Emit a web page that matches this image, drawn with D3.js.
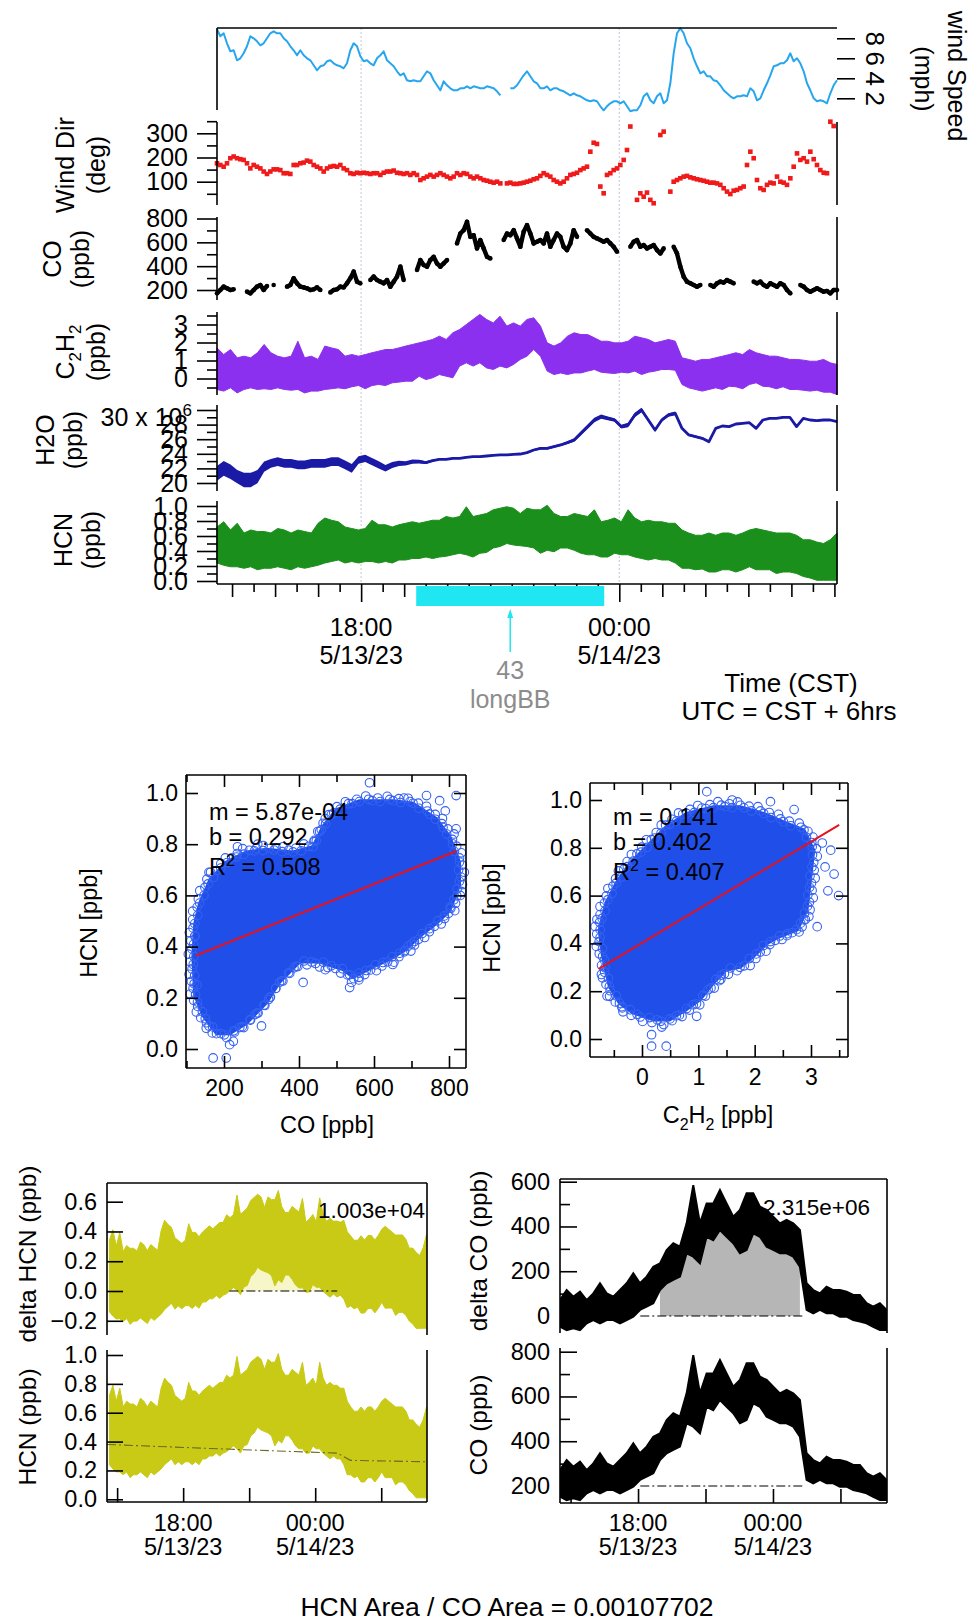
<!DOCTYPE html>
<html>
<head>
<meta charset="utf-8">
<script src="https://cdn.jsdelivr.net/npm/d3@7"></script>
<style>
  html, body { margin: 0; padding: 0; background: #fff; }
  svg { display: block; }
</style>
</head>
<body>
<svg id="chart" width="972" height="1621"></svg>
<script>
// ---------------- data ----------------
// Time is expressed in hours after 5/13/23 00:00 CST.
const seriesStart = 14.65;
const seriesEnd = 29.06;

// Wind speed (mph), evenly sampled over the series span
const windSpeedMph = [
  8.9,8.2,8.5,7.5,6.7,6.8,5.8,6.0,6.5,7.2,8.2,8.0,7.7,7.3,7.5,8.0,8.5,8.7,8.5,8.5,
  8.0,7.7,7.2,6.8,6.3,6.8,6.3,6.0,5.8,5.3,4.8,5.2,5.3,5.7,5.8,5.5,5.3,5.2,5.0,5.5,
  6.8,7.5,7.2,6.2,5.7,5.8,5.5,5.3,6.0,6.3,6.7,5.8,5.5,5.2,4.7,4.3,4.5,3.8,3.7,3.8,
  3.7,3.7,4.2,4.7,4.5,3.8,3.3,2.8,3.7,3.3,3.0,2.8,2.8,3.0,3.0,3.2,3.0,3.2,3.1,3.0,
  3.0,3.2,3.1,3.0,2.7,2.3,null,null,3.0,3.0,3.3,3.8,4.3,4.7,4.2,3.7,3.5,3.0,
  3.0,3.2,2.8,3.0,3.0,2.8,2.7,2.5,2.3,2.5,2.3,2.2,2.0,1.8,1.7,1.8,1.7,1.2,0.8,1.2,
  1.5,1.7,1.7,1.5,1.7,1.2,0.7,0.8,0.8,1.3,2.2,2.5,1.8,1.5,2.2,2.5,1.5,1.8,3.5,6.5,
  8.5,9.0,8.5,7.5,7.0,6.0,5.2,4.5,4.7,4.2,4.2,3.8,3.7,3.3,2.8,2.5,2.2,2.0,2.2,2.2,
  2.3,2.2,3.0,2.7,1.8,2.0,2.8,3.5,4.3,5.2,5.3,5.5,5.5,5.8,6.5,5.7,6.0,5.5,4.7,3.5,
  2.8,2.0,1.7,1.8,1.7,1.5,2.5,3.3,3.8
];

// Wind direction (deg), same sampling
const windDirDeg = [
  176,169,162,176,197,204,197,193,190,176,155,169,162,155,142,132,142,151,151,148,
  135,135,132,169,169,176,179,187,183,169,162,155,142,155,162,165,162,169,155,148,
  135,132,137,135,137,135,132,135,135,128,137,142,142,146,137,135,132,135,128,135,
  128,107,114,121,128,121,128,135,128,121,114,121,135,128,135,132,121,114,121,114,
  107,104,100,96,100,93,null,93,96,91,91,93,96,100,104,110,114,124,
  135,128,121,107,100,93,100,114,128,132,137,148,155,162,224,261,256,80,52,128,
  135,148,155,169,190,231,328,null,25,52,38,55,25,11,null,293,307,null,59,100,
  107,114,121,124,118,114,110,107,104,100,96,96,93,87,73,59,49,63,66,73,
  80,169,224,197,107,73,66,87,96,93,121,100,96,87,114,162,217,190,197,183,
  224,193,169,148,137,135,348,330,null
];

// CO (ppb), same sampling; null marks instrument gaps
const coPpb = [
  172,200,228,214,200,206,null,null,null,186,172,200,228,242,200,234,null,242,null,null,
  null,228,242,298,256,228,222,214,200,206,222,200,null,null,180,200,206,228,222,256,
  298,354,270,256,null,null,284,312,284,270,256,284,228,270,312,396,284,null,null,null,
  368,451,410,396,451,479,423,396,423,451,null,null,591,674,702,772,646,660,549,619,
  549,479,465,null,null,null,619,674,660,702,633,563,688,744,674,591,605,620,
  591,674,563,619,674,646,563,535,591,702,646,null,null,702,674,646,633,619,605,619,
  591,563,521,null,null,null,563,605,619,563,577,549,563,577,535,507,549,null,null,563,
  507,396,312,270,256,242,228,242,null,null,242,228,256,270,262,284,270,256,null,null,
  null,null,null,270,256,270,242,228,256,242,228,256,242,200,172,null,null,242,228,200,
  186,200,214,200,186,192,172,200,200
];

// C2H2 (ppb) low / high envelope of the 1 Hz record
const c2h2Low = [
  -0.61,-0.70,-0.52,-0.80,-0.61,-0.52,-0.61,-0.57,-0.61,-0.52,-0.61,-0.65,-0.61,-0.80,-0.70,-0.70,
  -0.61,-0.57,-0.52,-0.57,-0.46,-0.39,-0.57,-0.39,-0.33,-0.39,-0.24,-0.20,-0.15,-0.15,0.13,-0.06,
  0.04,0.22,0.13,0.04,0.69,0.87,0.69,0.87,0.59,0.50,0.69,0.59,0.78,1.06,1.24,1.61,1.24,
  0.41,0.22,0.31,0.22,0.31,0.31,0.41,0.50,0.35,0.31,0.28,0.35,0.31,0.41,0.22,0.35,0.41,0.50,0.50,0.46,
  -0.33,-0.52,-0.61,-0.70,-0.61,-0.52,-0.61,-0.43,-0.46,-0.57,-0.33,-0.24,-0.43,-0.46,-0.57,-0.46,
  -0.61,-0.61,-0.65,-0.70,-0.65,-0.76,-0.76,-0.89
];
const c2h2High = [
  1.70,1.33,1.61,1.15,1.24,1.15,1.43,1.89,1.43,1.24,1.15,1.24,2.07,1.15,1.24,1.06,
  1.80,1.70,1.61,1.24,1.33,1.24,1.33,1.43,1.52,1.61,1.61,1.70,1.80,1.89,1.98,2.07,
  2.17,2.35,2.17,2.54,2.72,3.00,3.28,3.56,3.28,3.09,3.46,2.91,3.09,2.91,3.28,3.37,2.91,
  1.98,1.80,1.98,2.35,2.54,2.44,2.44,2.26,2.07,2.07,1.98,1.98,2.07,2.35,2.26,2.17,1.98,2.07,2.17,2.07,
  1.15,1.06,0.96,1.06,1.06,1.15,1.24,1.33,1.43,1.33,1.61,1.43,1.33,1.24,1.24,1.15,
  1.06,1.06,1.02,0.96,0.96,1.06,0.87,0.78
];

// H2O (10^6 ppb) running value and noise half-width
const h2oPpm = [
  21.32,22.01,21.55,20.87,20.41,20.41,20.87,22.24,22.69,22.92,22.69,22.69,22.47,22.47,22.69,22.69,
  22.69,22.92,22.92,22.47,22.01,23.15,23.38,22.92,22.47,22.01,22.47,22.69,22.69,22.92,22.92,22.79,
  23.06,23.24,23.24,23.38,23.38,23.52,23.61,23.61,23.70,23.79,23.84,23.84,23.93,23.97,24.16,24.52,24.75,
  24.75,24.98,25.21,25.53,25.89,26.80,27.72,28.63,29.09,28.86,28.63,27.72,27.95,29.32,30.00,28.63,
  27.26,28.63,29.32,29.54,27.49,26.58,26.35,26.12,25.66,27.49,27.81,27.72,28.08,28.17,28.26,27.49,
  28.63,28.86,28.86,29.00,29.00,27.72,28.86,28.63,28.54,28.63,28.63,28.40
];
const h2oNoise = [
  1.0,1.0,1.0,0.9,1.0,1.0,0.9,0.7,0.6,0.6,0.6,0.6,0.6,0.6,0.6,0.6,0.6,0.6,0.6,0.6,
  0.6,0.5,0.5,0.5,0.5,0.45,0.4,0.35,0.3,0.3,0.25,0.2,0.15,0.1,0.1,0.1,0.1,0.1,0.1,0.1,
  0.1,0.1,0.1,0.1,0.1,0.1,0.1,0.15,0.15,
  0.15,0.15,0.15,0.2,0.25,0.3,0.3,0.3,0.3,0.25,0.25,0.25,0.3,0.3,0.3,0.25,0.25,0.25,0.25,0.25,
  0.2,0.15,0.15,0.15,0.15,0.15,0.1,0.1,0.1,0.1,0.1,0.1,0.1,0.1,0.1,0.1,0.1,0.1,0.1,0.1,
  0.1,0.1,0.1,0.1
];

// HCN (ppb) low / high envelope of the 1 Hz record
const hcnLow = [
  0.24,0.21,0.19,0.19,0.17,0.19,0.15,0.17,0.17,0.19,0.17,0.15,0.19,0.17,0.19,0.21,
  0.24,0.26,0.28,0.24,0.26,0.24,0.26,0.26,0.24,0.26,0.24,0.28,0.28,0.30,0.30,0.32,
  0.30,0.32,0.33,0.35,0.37,0.35,0.32,0.37,0.38,0.44,0.46,0.50,0.48,0.47,0.46,0.44,0.37,
  0.41,0.39,0.44,0.44,0.41,0.37,0.35,0.35,0.32,0.32,0.37,0.35,0.35,0.32,0.30,0.28,0.30,0.28,0.28,0.24,
  0.17,0.17,0.15,0.16,0.12,0.12,0.15,0.15,0.12,0.15,0.19,0.15,0.15,0.15,0.10,0.12,
  0.12,0.10,0.06,0.04,0.01,0.01,0.01,0.01
];
const hcnHigh = [
  0.72,0.79,0.68,0.77,0.64,0.68,0.66,0.66,0.64,0.70,0.68,0.64,0.68,0.66,0.64,0.77,
  0.84,0.81,0.79,0.72,0.70,0.68,0.70,0.81,0.75,0.75,0.72,0.75,0.77,0.79,0.77,0.79,
  0.81,0.81,0.86,0.84,0.86,0.99,0.86,0.88,0.90,0.95,0.97,0.99,0.97,0.90,0.97,0.95,0.95,
  1.01,0.90,0.86,0.86,0.90,0.88,0.86,0.95,0.79,0.81,0.84,0.79,0.95,0.84,0.79,0.81,0.79,0.79,0.77,0.77,
  0.68,0.64,0.61,0.61,0.64,0.61,0.64,0.64,0.61,0.64,0.68,0.70,0.68,0.66,0.64,0.64,
  0.64,0.61,0.55,0.55,0.52,0.50,0.55,0.64
];

// Fast CO record (ppb) used for the plume integration
const coFastStart = 14.53, coFastEnd = 29.05;
const coFastLow = [
  152,137,145,137,167,182,167,182,182,167,182,197,227,242,257,316,346,361,376,480,
  465,435,554,539,584,554,525,480,495,569,554,510,495,480,480,465,420,227,212,227,
  212,212,197,197,182,175,167,152,137,137
];
const coFastHigh = [
  271,316,286,309,271,301,346,301,286,316,346,391,346,376,420,435,495,525,510,614,
  785,614,703,703,763,703,644,674,748,748,688,674,644,614,629,614,584,346,316,301,
  331,316,316,309,294,294,257,242,257,227
];
const coBackground = 200;
const coFillWindow = [18.68, 25.42];
const coBaseWindow = [18.1, 25.42];

// HCN background (ppb) and plume window
const hcnBackgroundTime = [14.54, 19.6, 25.0, 25.6, 29.08];
const hcnBackgroundPpb = [0.38, 0.35, 0.32, 0.27, 0.26];
const hcnWindow = [20.1, 25.0];

const hcnAreaText = "1.003e+04";
const coAreaText = "2.315e+06";
const areaRatioText = "HCN Area / CO Area = 0.00107702";

// Biomass-burning event flag
const burnStart = 19.28, burnEnd = 23.65, burnId = "43", burnName = "longBB";

// Time labels
const markHours = [18, 24];
const markClock = ["18:00", "00:00"];
const markDate = ["5/13/23", "5/14/23"];

// Linear fits
const coFit = { m: 5.87e-4, b: 0.292, r2: 0.508, from: 125, to: 820 };
const c2h2Fit = { m: 0.141, b: 0.402, r2: 0.407, from: -0.77, to: 3.5 };

// Point-cloud outlines (x, HCN) and isolated points
const coCloudOutline = [
  [180,0.06],[144,0.13],[122,0.21],[117,0.36],[122,0.49],[135,0.57],[162,0.66],[206,0.73],
  [260,0.77],[313,0.78],[384,0.77],[437,0.79],[464,0.87],[500,0.935],[562,0.97],[651,0.97],
  [704,0.96],[766,0.90],[802,0.83],[828,0.73],[828,0.64],[802,0.54],[766,0.49],[722,0.44],
  [686,0.39],[642,0.35],[597,0.32],[544,0.28],[517,0.31],[455,0.34],[402,0.34],[348,0.26],
  [313,0.18],[260,0.10],[215,0.06]
];
const coCloudStray = [
  [588,1.04],[171,-0.035],[206,-0.035],[215,0.017],[225,0.03],[819,0.99],[775,0.97],[740,0.99],
  [535,0.24],[540,0.26],[411,0.26],[682,0.385],[700,0.41],[819,0.86],[790,0.93],[805,0.55],
  [830,0.60],[650,0.33],[300,0.09],[470,0.31],[160,0.09],[128,0.25],[122,0.44],[160,0.69],
  [236,0.79],[290,0.80],[440,0.81],[470,0.90],[680,0.98],[560,0.28]
];
const c2h2CloudOutline = [
  [-0.70,0.345],[-0.76,0.457],[-0.64,0.568],[-0.46,0.652],[-0.22,0.735],[0.08,0.805],[0.43,0.889],
  [0.79,0.944],[1.27,0.972],[1.74,0.972],[2.16,0.944],[2.58,0.902],[2.875,0.875],[3.05,0.79],
  [2.99,0.666],[2.93,0.54],[2.76,0.457],[2.46,0.43],[2.22,0.40],[1.98,0.345],[1.74,0.30],
  [1.50,0.29],[1.27,0.234],[1.03,0.164],[0.79,0.123],[0.49,0.08],[0.20,0.08],[-0.16,0.109],
  [-0.40,0.15],[-0.58,0.22]
];
const c2h2CloudStray = [
  [1.15,1.035],[0.17,0.018],[0.43,-0.03],[0.17,-0.03],[3.49,0.60],[3.41,0.69],[3.35,0.79],
  [3.11,0.47],[0.97,0.095],[2.28,0.993],[1.6,1.0],[2.7,0.96],[3.2,0.82],[3.25,0.72],
  [-0.8,0.5],[-0.72,0.27],[-0.62,0.18],[0.35,0.05],[1.4,0.25],[2.9,0.5],[3.3,0.62],[-0.35,0.13]
];

// ---------------- drawing ----------------
const FONT = "'Liberation Sans', Arial, Helvetica, sans-serif";
const svg = d3.select("#chart");
const defs = svg.append("defs");

const C_WIND = "#27a6ef", C_DIR = "#f01a1a", C_C2H2 = "#8b30ee", C_H2O = "#1a1aa6",
      C_HCN = "#1b8f1b", C_BB = "#1fe6f0", C_BLUE = "#1f4fe8", C_RING = "#3461f2",
      C_YEL = "#c8ca16", C_PALE = "#f6f6c8", C_GRAY = "#b6b6b6";

function spread(vals, t0, t1) {
  const n = vals.length;
  return vals.map((v, i) => ({ t: t0 + (t1 - t0) * i / (n - 1), v }));
}
function band(lo, hi, t0, t1) {
  const n = lo.length;
  return lo.map((l, i) => ({ t: t0 + (t1 - t0) * i / (n - 1), lo: l, hi: hi[i] }));
}
function clipRect(id, x, y, w, h) {
  defs.append("clipPath").attr("id", id).append("rect")
    .attr("x", x).attr("y", y).attr("width", w).attr("height", h);
  return `url(#${id})`;
}
function seg(g, x1, y1, x2, y2, w = 1.6) {
  g.append("line").attr("x1", x1).attr("y1", y1).attr("x2", x2).attr("y2", y2)
    .attr("stroke", "#000").attr("stroke-width", w);
}
function drawAxis(g, axis, size, transform) {
  const a = g.append("g").attr("transform", transform).call(axis);
  a.select(".domain").remove();
  a.selectAll(".tick line").attr("stroke", "#000").attr("stroke-width", 1.6);
  a.selectAll(".tick text").attr("font-size", size).attr("font-family", FONT).attr("fill", "#000");
  return a;
}
// Text with optional sub/superscript pieces; (x,y) is the visual centre of the line
function richText(g, x, y, parts, size, opts = {}) {
  const angle = opts.angle || 0;
  const t = g.append("text")
    .attr("transform", `translate(${x},${y}) rotate(${angle})`)
    .attr("text-anchor", opts.anchor || "middle")
    .attr("font-family", FONT).attr("font-size", size)
    .attr("fill", opts.fill || "#000")
    .attr("y", 0.36 * size);
  let shift = 0;
  parts.forEach(p => {
    const s = typeof p === "string" ? { t: p } : p;
    const target = s.sub ? 0.28 * size : s.sup ? -0.42 * size : 0;
    const ts = t.append("tspan").text(s.t).attr("dy", target - shift);
    if (s.sub || s.sup) ts.attr("font-size", size * 0.68);
    shift = target;
  });
  return t;
}

// ======== stacked time series ========
const L = 217, R = 837, AXIS_Y = 584;
const xTop = d3.scaleLinear().domain([seriesStart, seriesEnd]).range([L, R]);
const P = {
  ws:  { y: d3.scaleLinear().domain([2, 8]).range([98.3, 38.3]),      top: 28,  bottom: 110 },
  wd:  { y: d3.scaleLinear().domain([100, 300]).range([181.7, 133.3]), top: 122, bottom: 205 },
  co:  { y: d3.scaleLinear().domain([200, 800]).range([290, 218.5]),   top: 217, bottom: 300 },
  c2:  { y: d3.scaleLinear().domain([0, 3]).range([378.5, 324.5]),     top: 312, bottom: 395 },
  h2o: { y: d3.scaleLinear().domain([20, 30]).range([483, 410]),       top: 405, bottom: 491 },
  hcn: { y: d3.scaleLinear().domain([0, 1]).range([581, 506]),         top: 501, bottom: AXIS_Y }
};

const topG = svg.append("g");

// dotted day/hour guides
markHours.forEach(h => {
  topG.append("line").attr("x1", xTop(h)).attr("x2", xTop(h)).attr("y1", 28).attr("y2", AXIS_Y)
    .attr("stroke", "#c4c4dc").attr("stroke-width", 1).attr("stroke-dasharray", "2,2");
});

// wind speed
topG.append("path")
  .datum(spread(windSpeedMph, seriesStart, seriesEnd))
  .attr("fill", "none").attr("stroke", C_WIND).attr("stroke-width", 2).attr("stroke-linejoin", "round")
  .attr("d", d3.line().defined(d => d.v != null).x(d => xTop(d.t)).y(d => P.ws.y(d.v)));

// wind direction
topG.append("g").selectAll("rect")
  .data(spread(windDirDeg, seriesStart, seriesEnd).filter(d => d.v != null))
  .join("rect")
  .attr("x", d => xTop(d.t) - 2.3).attr("y", d => P.wd.y(d.v) - 2.3)
  .attr("width", 4.6).attr("height", 4.6).attr("fill", C_DIR);

// CO
const coSeries = spread(coPpb, seriesStart, seriesEnd);
topG.append("path").datum(coSeries)
  .attr("fill", "none").attr("stroke", "#000").attr("stroke-width", 4.4).attr("stroke-linejoin", "round")
  .attr("d", d3.line().defined(d => d.v != null).x(d => xTop(d.t)).y(d => P.co.y(d.v)));
topG.append("g").selectAll("circle").data(coSeries.filter(d => d.v != null)).join("circle")
  .attr("cx", d => xTop(d.t)).attr("cy", d => P.co.y(d.v)).attr("r", 2.3).attr("fill", "#000");

// C2H2 envelope
topG.append("path").datum(band(c2h2Low, c2h2High, seriesStart, seriesEnd))
  .attr("fill", C_C2H2).attr("stroke", C_C2H2).attr("stroke-width", 1)
  .attr("d", d3.area().x(d => xTop(d.t)).y0(d => P.c2.y(d.lo)).y1(d => P.c2.y(d.hi)));

// H2O
const h2oSeries = h2oPpm.map((v, i) => ({ v, n: h2oNoise[i] }));
const h2oPts = spread(h2oSeries, seriesStart, seriesEnd);
topG.append("path").datum(h2oPts)
  .attr("fill", C_H2O).attr("stroke", "none")
  .attr("d", d3.area().x(d => xTop(d.t)).y0(d => P.h2o.y(d.v.v - d.v.n)).y1(d => P.h2o.y(d.v.v + d.v.n)));
topG.append("path").datum(h2oPts)
  .attr("fill", "none").attr("stroke", C_H2O).attr("stroke-width", 2.8).attr("stroke-linejoin", "round")
  .attr("d", d3.line().x(d => xTop(d.t)).y(d => P.h2o.y(d.v.v)));

// HCN envelope
const hcnBand = band(hcnLow, hcnHigh, seriesStart, seriesEnd);
topG.append("path").datum(hcnBand)
  .attr("fill", C_HCN).attr("stroke", C_HCN).attr("stroke-width", 1)
  .attr("d", d3.area().x(d => xTop(d.t)).y0(d => P.hcn.y(d.lo)).y1(d => P.hcn.y(d.hi)));

// frames and left axes
seg(topG, L, 28, R, 28);
seg(topG, L, P.ws.top, L, P.ws.bottom);
function leftAxis(p, major, minor, fmt) {
  drawAxis(topG, d3.axisLeft(p.y).tickValues(major).tickSize(20).tickPadding(9).tickFormat(fmt), 25, `translate(${L},0)`);
  if (minor) drawAxis(topG, d3.axisLeft(p.y).tickValues(minor).tickSize(10).tickFormat(""), 25, `translate(${L},0)`);
  seg(topG, L, p.top, L, p.bottom);
  seg(topG, R, p.top, R, p.bottom);
}
leftAxis(P.wd, [100, 200, 300], [50, 150, 250, 350], d3.format("d"));
leftAxis(P.co, [200, 400, 600, 800], [300, 500, 700], d3.format("d"));
leftAxis(P.c2, [0, 1, 2, 3], [-0.5, 0.5, 1.5, 2.5, 3.5], d3.format("d"));
leftAxis(P.h2o, [20, 22, 24, 26, 28, 30], [21, 23, 25, 27, 29], d => d === 30 ? "" : d3.format("d")(d));
leftAxis(P.hcn, [0, 0.2, 0.4, 0.6, 0.8, 1.0], [0.1, 0.3, 0.5, 0.7, 0.9], d3.format(".1f"));
richText(topG, 192, P.h2o.y(30) + 7, ["30 x 10", { t: "6", sup: true }], 25, { anchor: "end" });

// wind speed axis on the right with sideways labels
const wsAxis = drawAxis(topG, d3.axisRight(P.ws.y).tickValues([2, 4, 6, 8]).tickSize(18).tickFormat(d3.format("d")), 26, `translate(${R},0)`);
wsAxis.selectAll(".tick text")
  .attr("x", 0).attr("dy", null).attr("y", 0).attr("text-anchor", "middle")
  .attr("transform", "translate(36,0) rotate(90) translate(0,7)");

// time axis
seg(topG, L, AXIS_Y, R, AXIS_Y);
const halfHours = d3.range(15, 29.01, 0.5);
drawAxis(topG, d3.axisBottom(xTop).tickValues(halfHours.filter(h => h % 1 !== 0)).tickSize(8).tickFormat(""), 25, `translate(0,${AXIS_Y})`);
drawAxis(topG, d3.axisBottom(xTop).tickValues(halfHours.filter(h => h % 1 === 0 && !markHours.includes(h))).tickSize(13).tickFormat(""), 25, `translate(0,${AXIS_Y})`);
drawAxis(topG, d3.axisBottom(xTop).tickValues(markHours).tickSize(18).tickFormat(""), 25, `translate(0,${AXIS_Y})`);
markHours.forEach((h, i) => {
  richText(topG, xTop(h), 627, [markClock[i]], 25);
  richText(topG, xTop(h), 655, [markDate[i]], 25);
});

// burn event flag
topG.append("rect").attr("x", xTop(burnStart)).attr("y", 586)
  .attr("width", xTop(burnEnd) - xTop(burnStart)).attr("height", 20).attr("fill", C_BB);
const bbMid = xTop((burnStart + burnEnd) / 2);
topG.append("line").attr("x1", bbMid).attr("x2", bbMid).attr("y1", 613).attr("y2", 652)
  .attr("stroke", C_BB).attr("stroke-width", 1.5);
topG.append("path").attr("d", `M${bbMid},609 L${bbMid - 3},618 L${bbMid + 3},618 Z`).attr("fill", C_BB);
richText(topG, bbMid, 670, [burnId], 25, { fill: "#8c8c8c" });
richText(topG, bbMid, 699, [burnName], 25, { fill: "#8c8c8c" });

richText(topG, 791, 683, ["Time (CST)"], 26);
richText(topG, 789, 711, ["UTC = CST + 6hrs"], 26);

// panel titles
richText(topG, 957, 76, ["wind Speed"], 25, { angle: 90 });
richText(topG, 924, 79, ["(mph)"], 25, { angle: 90 });
richText(topG, 65, 165, ["Wind Dir"], 25, { angle: -90 });
richText(topG, 96, 165, ["(deg)"], 25, { angle: -90 });
richText(topG, 52, 259, ["CO"], 25, { angle: -90 });
richText(topG, 80, 259, ["(ppb)"], 25, { angle: -90 });
richText(topG, 65, 352, ["C", { t: "2", sub: true }, "H", { t: "2", sub: true }], 25, { angle: -90 });
richText(topG, 96, 352, ["(ppb)"], 25, { angle: -90 });
richText(topG, 45, 440, ["H2O"], 25, { angle: -90 });
richText(topG, 73, 440, ["(ppb)"], 25, { angle: -90 });
richText(topG, 63, 540, ["HCN"], 25, { angle: -90 });
richText(topG, 91, 540, ["(ppb)"], 25, { angle: -90 });

// ======== correlation plots ========
function fmtSlope(m) {
  if (Math.abs(m) >= 0.01) return m.toFixed(3);
  const [mant, ex] = m.toExponential(2).split("e");
  const e = parseInt(ex, 10);
  return `${mant}e${e < 0 ? "-" : "+"}${String(Math.abs(e)).padStart(2, "0")}`;
}
function scatter(cfg) {
  const g = svg.append("g");
  const { x0, x1, y0, y1, xs, ys } = cfg;
  const pts = cfg.outline.map(d => [xs(d[0]), ys(d[1])]);
  g.append("path").attr("d", d3.line()(pts) + "Z")
    .attr("fill", C_BLUE).attr("stroke", C_BLUE).attr("stroke-width", 3).attr("stroke-linejoin", "round");
  // markers crowding the edge of the cloud, stepping in and out of the outline
  const cx = d3.mean(pts, p => p[0]), cy = d3.mean(pts, p => p[1]);
  const ring = [];
  pts.forEach((p, i) => {
    const q = pts[(i + 1) % pts.length];
    const n = Math.max(1, Math.round(Math.hypot(q[0] - p[0], q[1] - p[1]) / 4));
    for (let k = 0; k < n; k++) {
      const px = p[0] + (q[0] - p[0]) * k / n, py = p[1] + (q[1] - p[1]) * k / n;
      const dx = px - cx, dy = py - cy, len = Math.hypot(dx, dy) || 1;
      const off = [0, 3, -1, 5, 1.5][(ring.length) % 5];
      ring.push([px + dx / len * off, py + dy / len * off]);
    }
  });
  g.append("g").selectAll("circle").data(ring).join("circle")
    .attr("cx", d => d[0]).attr("cy", d => d[1]).attr("r", 4.3)
    .attr("fill", "none").attr("stroke", C_RING).attr("stroke-width", 1.1);
  g.append("g").selectAll("circle").data(cfg.stray).join("circle")
    .attr("cx", d => xs(d[0])).attr("cy", d => ys(d[1])).attr("r", 4.3)
    .attr("fill", "none").attr("stroke", C_RING).attr("stroke-width", 1.1);
  const f = cfg.fit;
  g.append("line")
    .attr("x1", xs(f.from)).attr("y1", ys(f.m * f.from + f.b))
    .attr("x2", xs(f.to)).attr("y2", ys(f.m * f.to + f.b))
    .attr("stroke", "#e8101a").attr("stroke-width", 2);
  richText(g, cfg.tx, cfg.ty, [`m = ${fmtSlope(f.m)}`], 23.5, { anchor: "start" });
  richText(g, cfg.tx, cfg.ty + 25, [`b = ${f.b.toFixed(3)}`], 23.5, { anchor: "start" });
  richText(g, cfg.tx, cfg.ty + 55, ["R", { t: "2", sup: true }, ` = ${f.r2.toFixed(3)}`], 23.5, { anchor: "start" });

  // frame with inward ticks on every side
  seg(g, x0, y0, x1, y0); seg(g, x0, y1, x1, y1); seg(g, x0, y0, x0, y1); seg(g, x1, y0, x1, y1);
  drawAxis(g, d3.axisLeft(ys).tickValues(cfg.yTicks).tickSizeInner(-12).tickSizeOuter(0).tickPadding(8).tickFormat(d3.format(".1f")), 23, `translate(${x0},0)`);
  drawAxis(g, d3.axisRight(ys).tickValues(cfg.yTicks).tickSizeInner(-12).tickSizeOuter(0).tickFormat(""), 23, `translate(${x1},0)`);
  drawAxis(g, d3.axisBottom(xs).tickValues(cfg.xTicks).tickSizeInner(-12).tickSizeOuter(0).tickPadding(12).tickFormat(cfg.xFmt), 23, `translate(0,${y1})`);
  drawAxis(g, d3.axisBottom(xs).tickValues(cfg.xMinor).tickSizeInner(-7).tickSizeOuter(0).tickFormat(""), 23, `translate(0,${y1})`);
  drawAxis(g, d3.axisTop(xs).tickValues(cfg.xTicks).tickSizeInner(-12).tickSizeOuter(0).tickFormat(""), 23, `translate(0,${y0})`);
  drawAxis(g, d3.axisTop(xs).tickValues(cfg.xMinor).tickSizeInner(-7).tickSizeOuter(0).tickFormat(""), 23, `translate(0,${y0})`);
  richText(g, cfg.ylx, cfg.yly, ["HCN [ppb]"], 23.5, { angle: -90 });
  richText(g, cfg.xlx, cfg.xly, cfg.xTitle, 23.5);
}
scatter({
  x0: 186, x1: 466, y0: 775, y1: 1068,
  xs: d3.scaleLinear().domain([200, 800]).range([224, 449]),
  ys: d3.scaleLinear().domain([0, 1]).range([1049, 793]),
  outline: coCloudOutline, stray: coCloudStray, fit: coFit,
  tx: 209, ty: 812,
  yTicks: [0, 0.2, 0.4, 0.6, 0.8, 1.0],
  xTicks: [200, 400, 600, 800], xMinor: [100, 300, 500, 700], xFmt: d3.format("d"),
  ylx: 89, yly: 923, xlx: 327, xly: 1125, xTitle: ["CO [ppb]"]
});
scatter({
  x0: 590, x1: 848, y0: 783, y1: 1057,
  xs: d3.scaleLinear().domain([0, 3]).range([642, 811]),
  ys: d3.scaleLinear().domain([0, 1]).range([1039, 800]),
  outline: c2h2CloudOutline, stray: c2h2CloudStray, fit: c2h2Fit,
  tx: 613, ty: 817,
  yTicks: [0, 0.2, 0.4, 0.6, 0.8, 1.0],
  xTicks: [0, 1, 2, 3], xMinor: [-0.5, 0.5, 1.5, 2.5, 3.5], xFmt: d3.format("d"),
  ylx: 492, yly: 918, xlx: 718, xly: 1115,
  xTitle: ["C", { t: "2", sub: true }, "H", { t: "2", sub: true }, " [ppb]"]
});

// ======== plume integrations ========
const hourTicks = [15, 18, 21, 24, 27];
const dashDot = "9,3,2,3";

function timeAxisLabels(g, xs) {
  markHours.forEach((h, i) => {
    richText(g, xs(h), 1523, [markClock[i]], 23.5);
    richText(g, xs(h), 1547, [markDate[i]], 23.5);
  });
}
function frameTop(g, x0, x1, y0, y1) { seg(g, x0, y0, x0, y1); seg(g, x0, y0, x1, y0); seg(g, x1, y0, x1, y1); }
function frameBottom(g, x0, x1, y0, y1) { seg(g, x0, y0, x0, y1); seg(g, x0, y1, x1, y1); seg(g, x1, y0, x1, y1); }

// --- HCN ---
{
  const g = svg.append("g");
  const x0 = 107, x1 = 427;
  const xs = d3.scaleLinear().domain([14.54, 29.08]).range([x0, x1]);
  const yD = d3.scaleLinear().domain([0, 0.6]).range([1291, 1201.7]);
  const yH = d3.scaleLinear().domain([0, 1]).range([1499.3, 1355]);
  const bg = d3.scaleLinear().domain(hcnBackgroundTime).range(hcnBackgroundPpb);
  const delta = hcnBand.map(d => ({ t: d.t, lo: d.lo - bg(d.t), hi: d.hi - bg(d.t) }));
  const cTop = clipRect("clipHcnD", x0, 1183, x1 - x0, 1335 - 1183);
  const cBot = clipRect("clipHcn", x0, 1350, x1 - x0, 1502 - 1350);

  const inWin = delta.filter(d => d.t >= hcnWindow[0] && d.t <= hcnWindow[1]);
  g.append("path").datum(inWin).attr("clip-path", cTop).attr("fill", C_PALE)
    .attr("d", d3.area().x(d => xs(d.t)).y0(yD(0)).y1(d => yD(d.hi)));
  g.append("path").datum(delta).attr("clip-path", cTop).attr("fill", C_YEL).attr("stroke", C_YEL).attr("stroke-width", 1)
    .attr("d", d3.area().x(d => xs(d.t)).y0(d => yD(d.lo)).y1(d => yD(d.hi)));
  g.append("line").attr("x1", xs(hcnWindow[0])).attr("x2", xs(hcnWindow[1])).attr("y1", yD(0)).attr("y2", yD(0))
    .attr("stroke", "#000").attr("stroke-width", 1.1).attr("stroke-dasharray", dashDot);

  g.append("path").datum(hcnBand).attr("clip-path", cBot).attr("fill", C_YEL).attr("stroke", C_YEL).attr("stroke-width", 1)
    .attr("d", d3.area().x(d => xs(d.t)).y0(d => yH(d.lo)).y1(d => yH(d.hi)));
  g.append("path").datum(hcnBackgroundTime.map((t, i) => [t, hcnBackgroundPpb[i]]))
    .attr("fill", "none").attr("stroke", "#6a6a20").attr("stroke-width", 1.1).attr("stroke-dasharray", dashDot)
    .attr("d", d3.line().x(d => xs(d[0])).y(d => yH(d[1])));

  frameTop(g, x0, x1, 1183, 1335);
  frameBottom(g, x0, x1, 1350, 1502);
  drawAxis(g, d3.axisLeft(yD).tickValues([-0.2, 0, 0.2, 0.4, 0.6]).tickSizeInner(-16).tickSizeOuter(0).tickPadding(10).tickFormat(d3.format(".1f")), 23.5, `translate(${x0},0)`);
  drawAxis(g, d3.axisLeft(yH).tickValues([0, 0.2, 0.4, 0.6, 0.8, 1.0]).tickSizeInner(-16).tickSizeOuter(0).tickPadding(10).tickFormat(d3.format(".1f")), 23.5, `translate(${x0},0)`);
  drawAxis(g, d3.axisBottom(xs).tickValues(hourTicks).tickSizeInner(-14).tickSizeOuter(0).tickFormat(""), 23, `translate(0,1502)`);
  timeAxisLabels(g, xs);
  richText(g, 425, 1210, [hcnAreaText], 22.5, { anchor: "end" });
  richText(g, 27, 1254, ["delta HCN (ppb)"], 24.5, { angle: -90 });
  richText(g, 27, 1427, ["HCN (ppb)"], 24.5, { angle: -90 });
}

// --- CO ---
{
  const g = svg.append("g");
  const x0 = 560, x1 = 887;
  const xs = d3.scaleLinear().domain([14.53, 29.07]).range([x0, x1]);
  const yD = d3.scaleLinear().domain([0, 600]).range([1316, 1181.7]);
  const yC = d3.scaleLinear().domain([200, 800]).range([1486, 1351.7]);
  const fast = band(coFastLow, coFastHigh, coFastStart, coFastEnd);
  const delta = fast.map(d => ({ t: d.t, lo: d.lo - coBackground, hi: d.hi - coBackground }));
  const cTop = clipRect("clipCoD", x0, 1179, x1 - x0, 1333 - 1179);
  const cBot = clipRect("clipCo", x0, 1348, x1 - x0, 1503 - 1348);

  richText(g, 870, 1207, [coAreaText], 22.5, { anchor: "end" });
  const inWin = delta.filter(d => d.t >= coFillWindow[0] && d.t <= coFillWindow[1]);
  g.append("path").datum(inWin).attr("clip-path", cTop).attr("fill", C_GRAY)
    .attr("d", d3.area().x(d => xs(d.t)).y0(yD(0)).y1(d => yD(d.hi)));
  g.append("line").attr("x1", xs(coBaseWindow[0])).attr("x2", xs(coBaseWindow[1])).attr("y1", yD(0)).attr("y2", yD(0))
    .attr("stroke", "#000").attr("stroke-width", 1.1).attr("stroke-dasharray", dashDot);
  g.append("path").datum(delta).attr("clip-path", cTop).attr("fill", "#000").attr("stroke", "#000").attr("stroke-width", 2)
    .attr("d", d3.area().x(d => xs(d.t)).y0(d => yD(d.lo)).y1(d => yD(d.hi)));

  g.append("path").datum(fast).attr("clip-path", cBot).attr("fill", "#000").attr("stroke", "#000").attr("stroke-width", 2)
    .attr("d", d3.area().x(d => xs(d.t)).y0(d => yC(d.lo)).y1(d => yC(d.hi)));
  g.append("line").attr("x1", xs(coBaseWindow[0])).attr("x2", xs(coBaseWindow[1])).attr("y1", yC(coBackground)).attr("y2", yC(coBackground))
    .attr("stroke", "#000").attr("stroke-width", 1.1).attr("stroke-dasharray", dashDot);

  frameTop(g, x0, x1, 1179, 1333);
  frameBottom(g, x0, x1, 1348, 1503);
  drawAxis(g, d3.axisLeft(yD).tickValues([0, 200, 400, 600]).tickSizeInner(-17).tickSizeOuter(0).tickPadding(10).tickFormat(d3.format("d")), 23.5, `translate(${x0},0)`);
  drawAxis(g, d3.axisLeft(yD).tickValues([100, 300, 500]).tickSizeInner(-10).tickSizeOuter(0).tickFormat(""), 23, `translate(${x0},0)`);
  drawAxis(g, d3.axisLeft(yC).tickValues([200, 400, 600, 800]).tickSizeInner(-17).tickSizeOuter(0).tickPadding(10).tickFormat(d3.format("d")), 23.5, `translate(${x0},0)`);
  drawAxis(g, d3.axisLeft(yC).tickValues([300, 500, 700]).tickSizeInner(-10).tickSizeOuter(0).tickFormat(""), 23, `translate(${x0},0)`);
  drawAxis(g, d3.axisBottom(xs).tickValues(hourTicks).tickSizeInner(-14).tickSizeOuter(0).tickFormat(""), 23, `translate(0,1503)`);
  timeAxisLabels(g, xs);
  richText(g, 478, 1251, ["delta CO (ppb)"], 24.5, { angle: -90 });
  richText(g, 478, 1425, ["CO (ppb)"], 24.5, { angle: -90 });
}

richText(svg, 507, 1606, [areaRatioText], 26.5);
</script>
</body>
</html>
